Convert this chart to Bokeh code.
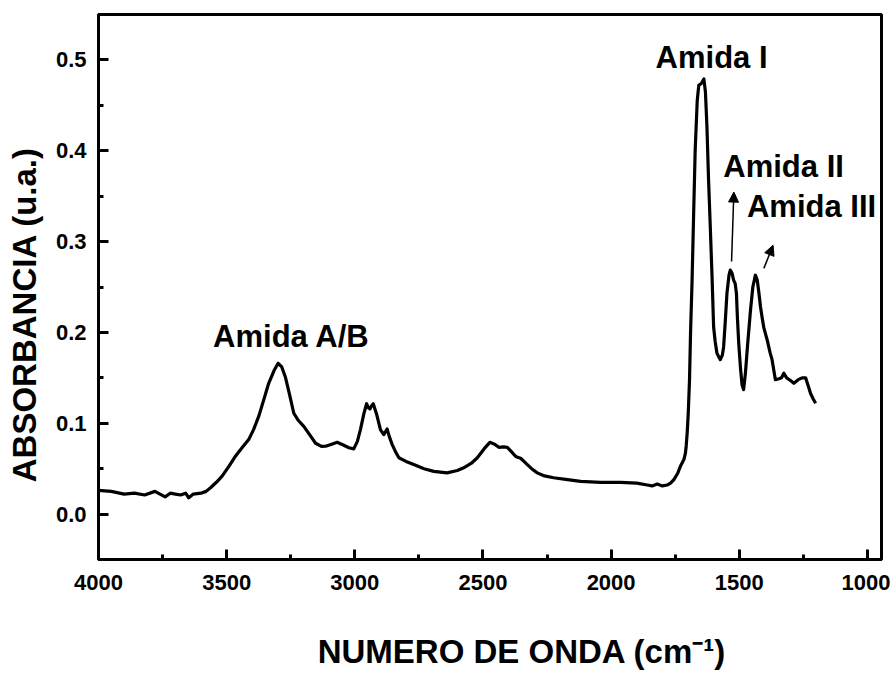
from bokeh.plotting import figure
from bokeh.models import (Range1d, SingleIntervalTicker, NumeralTickFormatter, Label,
                          Arrow, NormalHead)
from bokeh.embed import file_html
from bokeh.resources import INLINE

# ---- data ----
wavenumber = [4000, 3950, 3900, 3860, 3820, 3780, 3760, 3740, 3720, 3700, 3680, 3660, 3648, 3630,
              3600, 3580, 3563, 3540, 3517, 3490, 3465, 3440, 3414, 3395, 3375, 3355, 3336, 3315,
              3299, 3285, 3271, 3255, 3238, 3220, 3199, 3175, 3153, 3130, 3114, 3090, 3069, 3045,
              3023, 3004, 2990, 2978, 2965, 2954, 2947, 2941, 2935, 2928, 2915, 2900, 2887, 2874,
              2865, 2854, 2840, 2828, 2800, 2770, 2730, 2692, 2640, 2600, 2575, 2545, 2522, 2495,
              2473, 2455, 2438, 2420, 2405, 2390, 2373, 2365, 2353, 2340, 2327, 2310, 2288, 2260,
              2224, 2170, 2119, 2041, 1963, 1900, 1859, 1840, 1820, 1800, 1781, 1768, 1755, 1740,
              1729, 1716, 1710, 1707, 1703, 1699, 1694, 1690, 1684, 1678, 1672, 1664, 1658, 1648,
              1638, 1632, 1626, 1620, 1613, 1606, 1600, 1594, 1587, 1574, 1566, 1561, 1555, 1548,
              1540, 1535, 1528, 1522, 1516, 1511, 1507, 1502, 1495, 1489, 1483, 1476, 1467, 1456,
              1447, 1437, 1430, 1424, 1417, 1410, 1404, 1391, 1380, 1372, 1365, 1359, 1345, 1335,
              1326, 1315, 1300, 1287, 1270, 1255, 1241, 1232, 1222, 1212, 1202]
absorbance = [0.026, 0.025, 0.022, 0.023, 0.021, 0.025, 0.022, 0.019, 0.023, 0.022, 0.021, 0.023, 0.018, 0.022,
              0.023, 0.025, 0.029, 0.035, 0.042, 0.053, 0.064, 0.073, 0.082, 0.093, 0.1075, 0.126, 0.144, 0.158,
              0.166, 0.162, 0.151, 0.132, 0.111, 0.103, 0.0966, 0.087, 0.078, 0.0745, 0.0747, 0.077, 0.079, 0.076,
              0.073, 0.0718, 0.080, 0.093, 0.110, 0.1215, 0.117, 0.1157, 0.119, 0.1215, 0.110, 0.093, 0.0875, 0.0937,
              0.085, 0.0765, 0.068, 0.062, 0.058, 0.0545, 0.050, 0.047, 0.0454, 0.048, 0.051, 0.056, 0.062, 0.072,
              0.079, 0.077, 0.0735, 0.074, 0.0735, 0.069, 0.0637, 0.0625, 0.0615, 0.058, 0.0545, 0.050, 0.0454, 0.042,
              0.040, 0.038, 0.036, 0.035, 0.035, 0.034, 0.032, 0.031, 0.033, 0.031, 0.032, 0.034, 0.038, 0.045,
              0.053, 0.060, 0.067, 0.075, 0.090, 0.111, 0.148, 0.200, 0.258, 0.330, 0.400, 0.455, 0.472, 0.474,
              0.479, 0.465, 0.426, 0.370, 0.316, 0.260, 0.206, 0.190, 0.177, 0.170, 0.175, 0.184, 0.210, 0.243,
              0.263, 0.2686, 0.265, 0.2576, 0.254, 0.243, 0.215, 0.188, 0.160, 0.142, 0.137, 0.155, 0.188, 0.2247,
              0.250, 0.263, 0.258, 0.245, 0.228, 0.215, 0.205, 0.1917, 0.178, 0.170, 0.158, 0.148, 0.149, 0.150,
              0.155, 0.150, 0.147, 0.144, 0.148, 0.150, 0.150, 0.142, 0.133, 0.127, 0.122]

annot_text = ["Amida A/B", "Amida I", "Amida II", "Amida III"]
annot_x = [3247, 1608, 1327, 1218]
annot_y = [0.196, 0.503, 0.383, 0.3385]

arrow_x0 = [1530, 1404]
arrow_y0 = [0.278, 0.2705]
arrow_x1 = [1521, 1368]
arrow_y1 = [0.3545, 0.296]

x_title = "NUMERO DE ONDA (cm\u207b\u00b9)"
y_title = "ABSORBANCIA (u.a.)"

FONT = "Liberation Sans"
NBSP = "\u00a0"

p = figure(width=890, height=673, output_backend="svg", toolbar_location=None,
           x_range=Range1d(4000, 945), y_range=Range1d(-0.05, 0.55),
           min_border_left=98, min_border_right=9, min_border_top=14, min_border_bottom=114)
p.grid.visible = False
p.outline_line_color = "black"
p.outline_line_width = 3
p.background_fill_color = "white"
p.border_fill_color = "white"

p.line(wavenumber, absorbance, line_color="black", line_width=3.2, line_join="round")

p.xaxis.ticker = SingleIntervalTicker(interval=500, num_minor_ticks=2)
p.yaxis.ticker = SingleIntervalTicker(interval=0.1, num_minor_ticks=2)
p.yaxis.formatter = NumeralTickFormatter(format="0.0")

for ax in (p.xaxis[0], p.yaxis[0]):
    ax.axis_line_width = 3
    ax.major_tick_line_width = 3
    ax.minor_tick_line_width = 3
    ax.major_tick_in = 10
    ax.major_tick_out = 0
    ax.minor_tick_in = 5
    ax.minor_tick_out = 0
    ax.major_label_text_font = FONT
    ax.major_label_text_font_style = "bold"
    ax.major_label_text_font_size = "22px"
    ax.major_label_text_color = "black"
    ax.axis_label_text_font = FONT
    ax.axis_label_text_font_style = "bold"
    ax.axis_label_text_font_size = "33px"
    ax.axis_label_text_color = "black"

p.xaxis.major_label_standoff = 15
p.yaxis.major_label_standoff = 12
# non-breaking padding offsets the titles from the centre, as in the reference
p.xaxis.axis_label = NBSP * 7 + x_title
p.yaxis.axis_label = y_title + NBSP * 6
p.xaxis.axis_label_standoff = 40
p.yaxis.axis_label_standoff = 10

for t, x, y in zip(annot_text, annot_x, annot_y):
    p.add_layout(Label(x=x, y=y, text=t, text_font=FONT, text_font_style="bold",
                       text_font_size="31px", text_align="center", text_baseline="middle",
                       text_color="black"))

for x0, y0, x1, y1 in zip(arrow_x0, arrow_y0, arrow_x1, arrow_y1):
    p.add_layout(Arrow(x_start=x0, y_start=y0, x_end=x1, y_end=y1, line_width=1.5,
                       line_color="black",
                       end=NormalHead(size=10, fill_color="black", line_color="black", line_width=1)))

open("out.html", "w").write(file_html(p, INLINE))
